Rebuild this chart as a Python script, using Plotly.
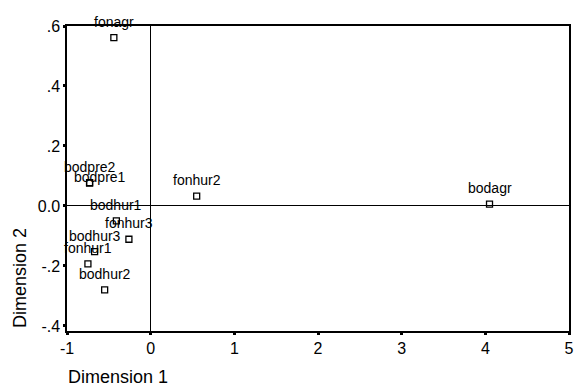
import plotly.graph_objects as go

labels = ["fonagr", "bodpre2", "bodpre1", "fonhur2", "bodagr", "bodhur1", "fonhur3", "bodhur3", "fonhur1", "bodhur2"]
dim1 = [-0.44, -0.73, -0.73, 0.55, 4.05, -0.41, -0.26, -0.67, -0.75, -0.55]
dim2 = [0.561, 0.078, 0.076, 0.033, 0.006, -0.05, -0.111, -0.152, -0.193, -0.28]

x_ticks = [-1, 0, 1, 2, 3, 4, 5]
y_ticks = [0.6, 0.4, 0.2, 0.0, -0.2, -0.4]
y_tick_text = [".6", ".4", ".2", "0.0", "-.2", "-.4"]

font = "Liberation Sans, Arial, sans-serif"

fig = go.Figure()
fig.add_trace(go.Scatter(
    x=dim1, y=dim2, mode="markers",
    marker=dict(symbol="square-open", size=6, color="black", line=dict(width=1.3, color="black")),
    cliponaxis=False, showlegend=False, hoverinfo="text", text=labels,
))

annotations = []
for lab, xv, yv in zip(labels, dim1, dim2):
    xs, ys = 0, 16
    if lab == "bodpre1":
        xs, ys = 10, 6
    annotations.append(dict(text=lab, x=xv, y=yv, xref="x", yref="y", showarrow=False,
                            xanchor="center", yanchor="middle", xshift=xs, yshift=ys,
                            font=dict(family=font, size=14, color="black")))

annotations += [
    dict(text="Dimension 1", xref="paper", yref="paper", x=-0.002, y=-0.151,
         xanchor="left", yanchor="middle", showarrow=False,
         font=dict(family=font, size=18, color="black")),
    dict(text="Dimension 2", xref="paper", yref="paper", x=-0.095, y=0.175,
         xanchor="center", yanchor="middle", showarrow=False, textangle=-90,
         font=dict(family=font, size=18, color="black")),
]

fig.update_layout(
    width=575, height=386,
    margin=dict(l=67, r=6, t=26, b=55, autoexpand=False),
    paper_bgcolor="white", plot_bgcolor="white",
    font=dict(family=font, size=16, color="black"),
    xaxis=dict(range=[-1, 5], tickvals=x_ticks, ticktext=[str(v) for v in x_ticks],
               showgrid=False, zeroline=True, zerolinecolor="black", zerolinewidth=1,
               showline=True, linecolor="black", linewidth=1.5, mirror=True,
               ticks="outside", ticklen=2, tickwidth=3, tickcolor="black",
               tickfont=dict(size=16), automargin=False),
    yaxis=dict(range=[-0.417, 0.6], tickvals=y_ticks, ticktext=y_tick_text,
               showgrid=False, zeroline=True, zerolinecolor="black", zerolinewidth=1,
               showline=True, linecolor="black", linewidth=1.5, mirror=True,
               ticks="outside", ticklen=2, tickwidth=3, tickcolor="black",
               tickfont=dict(size=16), automargin=False),
    annotations=annotations,
)

fig.write_html("out.html", config={"displayModeBar": False},
               post_script="document.body.style.margin='0';")
